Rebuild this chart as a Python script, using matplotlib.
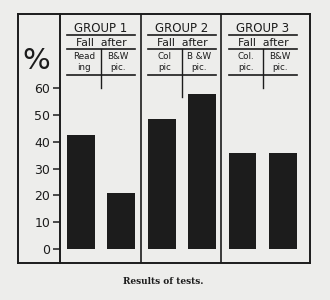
import matplotlib
matplotlib.use("Agg")
import matplotlib.pyplot as plt
from matplotlib.lines import Line2D

# data
groups = ["GROUP 1", "GROUP 2", "GROUP 3"]
sub_top = [("Read", "B&W"), ("Col", "B &W"), ("Col.", "B&W")]
sub_bot = [("ing", "pic."), ("pic", "pic."), ("pic.", "pic.")]
values = [42.5, 21, 48.5, 58, 36, 36]
yticks = [0, 10, 20, 30, 40, 50, 60]

paper = "#ededeb"
ink = "#1c1c1c"

fig = plt.figure(figsize=(3.3, 3.0), dpi=100, facecolor=paper)

def fx(p):
    return p / 330.0

def fy(p):
    return 1 - p / 300.0

ax = fig.add_axes([fx(18), fy(263), fx(310) - fx(18), fy(14) - fy(263)])
ax.set_facecolor(paper)
ax.set_xlim(-1.56, 5.67)
ax.set_ylim(-5.22, 87.7)

x = list(range(len(values)))
ax.bar(x, values, width=0.69, color=ink, zorder=3)

# y axis on the panel divider
ax.spines["left"].set_position(("data", -0.52))
for s in ax.spines.values():
    s.set_linewidth(1.4)
    s.set_color(ink)
ax.set_yticks(yticks)
ax.set_yticklabels([str(t) for t in yticks], fontsize=9, color=ink)
ax.tick_params(axis="y", length=5, width=1.1, pad=2, colors=ink)
ax.set_xticks([])
ax.plot([0, 0], [0, 1], transform=ax.transAxes, color=ink, lw=1.4, clip_on=False)

# group dividers
for xd in [1.49, 3.47]:
    ax.axvline(xd, color=ink, lw=1.2)

fig.text(fx(36), fy(61), "%", fontsize=21, ha="center", va="center", color=ink)

# header lettering
for i, g in enumerate(groups):
    c = 101 + 81 * i
    left, right = c - 34, c + 34
    fig.text(fx(c), fy(28), g, fontsize=8.5, ha="center", va="center", color=ink)
    fig.add_artist(Line2D([fx(left), fx(right)], [fy(35), fy(35)], color=ink, lw=1.2))
    fig.text(fx(c), fy(43), "Fall  after", fontsize=7.8, ha="center", va="center", color=ink)
    fig.add_artist(Line2D([fx(left), fx(right)], [fy(49), fy(49)], color=ink, lw=1.2))
    fig.add_artist(Line2D([fx(left), fx(right)], [fy(75), fy(75)], color=ink, lw=1.2))
    bottom = 97 if i == 1 else 88
    fig.add_artist(Line2D([fx(c), fx(c)], [fy(49), fy(bottom)], color=ink, lw=1.0))
    for j in range(2):
        cx = c - 17 + 34 * j
        fig.text(fx(cx), fy(57), sub_top[i][j], fontsize=6.3, ha="center", va="center", color=ink)
        fig.text(fx(cx), fy(67), sub_bot[i][j], fontsize=6.3, ha="center", va="center", color=ink)

fig.text(fx(163), fy(282), "Results of tests.", fontsize=6.5, fontweight="bold",
         family="DejaVu Serif", ha="center", va="center", color=ink)

fig.savefig("out.png", dpi=100, facecolor=paper)
